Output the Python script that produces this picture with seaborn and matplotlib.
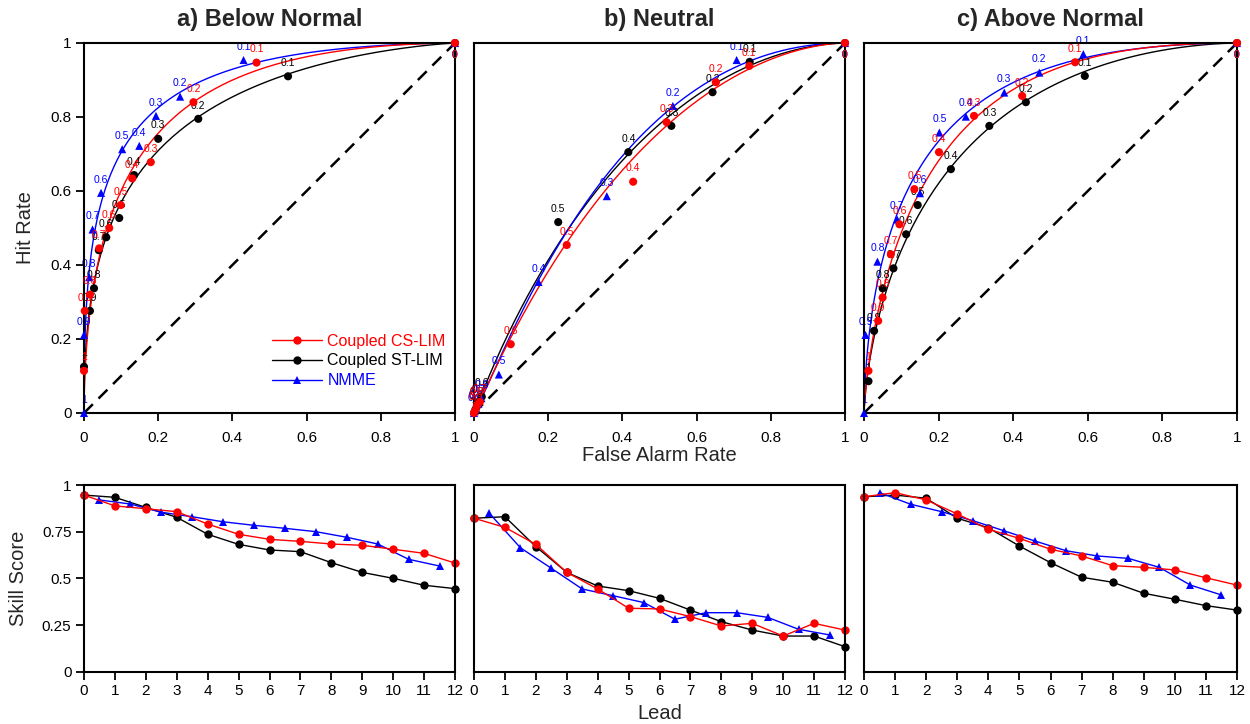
import math
import numpy as np
import pandas as pd
import matplotlib
matplotlib.use("Agg")
import matplotlib.pyplot as plt
from matplotlib.lines import Line2D
from matplotlib.ticker import FuncFormatter
import seaborn as sns

# ---------------- data ----------------
thresholds = ["1", "0.9", "0.8", "0.7", "0.6", "0.5", "0.4", "0.3", "0.2", "0.1", "0"]

# a) Below Normal  (false alarm rate, hit rate) per threshold
a_cs_far = [0.0, 0.002, 0.016, 0.041, 0.068, 0.099, 0.130, 0.180, 0.295, 0.465, 1.0]
a_cs_hr  = [0.114, 0.276, 0.320, 0.445, 0.500, 0.562, 0.634, 0.678, 0.840, 0.947, 1.0]
a_st_far = [0.0, 0.016, 0.027, 0.040, 0.060, 0.095, 0.135, 0.200, 0.308, 0.550, 1.0]
a_st_hr  = [0.125, 0.276, 0.337, 0.440, 0.475, 0.527, 0.643, 0.741, 0.795, 0.910, 1.0]
a_nm_far = [0.0, 0.0, 0.014, 0.023, 0.046, 0.103, 0.149, 0.194, 0.259, 0.430, 1.0]
a_nm_hr  = [0.0, 0.211, 0.367, 0.496, 0.595, 0.713, 0.722, 0.803, 0.855, 0.954, 1.0]

# b) Neutral
b_cs_far = [0.0, 0.004, 0.008, 0.016, 0.099, 0.250, 0.429, 0.519, 0.652, 0.742, 1.0]
b_cs_hr  = [0.0, 0.008, 0.020, 0.030, 0.186, 0.454, 0.625, 0.786, 0.894, 0.938, 1.0]
b_st_far = [0.0, 0.004, 0.008, 0.012, 0.021, 0.227, 0.416, 0.532, 0.643, 0.743, 1.0]
b_st_hr  = [0.0, 0.010, 0.020, 0.030, 0.044, 0.516, 0.705, 0.776, 0.867, 0.949, 1.0]
b_nm_far = [0.0, 0.002, 0.006, 0.012, 0.020, 0.067, 0.174, 0.358, 0.536, 0.708, 1.0]
b_nm_hr  = [0.0, 0.005, 0.012, 0.025, 0.040, 0.104, 0.354, 0.586, 0.830, 0.954, 1.0]

# c) Above Normal
c_cs_far = [0.012, 0.038, 0.050, 0.072, 0.095, 0.135, 0.201, 0.295, 0.424, 0.566, 1.0]
c_cs_hr  = [0.114, 0.249, 0.312, 0.429, 0.510, 0.605, 0.705, 0.803, 0.857, 0.948, 1.0]
c_st_far = [0.012, 0.027, 0.050, 0.079, 0.113, 0.144, 0.233, 0.336, 0.434, 0.592, 1.0]
c_st_hr  = [0.086, 0.222, 0.337, 0.391, 0.483, 0.562, 0.659, 0.776, 0.840, 0.911, 1.0]
c_nm_far = [0.0, 0.004, 0.036, 0.089, 0.150, 0.202, 0.273, 0.376, 0.470, 0.588, 1.0]
c_nm_hr  = [0.0, 0.211, 0.409, 0.523, 0.594, 0.758, 0.801, 0.866, 0.920, 0.970, 1.0]

# skill scores vs lead
lead_int  = [0, 1, 2, 3, 4, 5, 6, 7, 8, 9, 10, 11, 12]
lead_half = [0.5, 1.5, 2.5, 3.5, 4.5, 5.5, 6.5, 7.5, 8.5, 9.5, 10.5, 11.5]

a_cs_ss = [0.946, 0.888, 0.873, 0.857, 0.791, 0.736, 0.709, 0.698, 0.684, 0.677, 0.656, 0.634, 0.582]
a_st_ss = [0.946, 0.934, 0.880, 0.827, 0.736, 0.682, 0.652, 0.643, 0.584, 0.532, 0.500, 0.463, 0.445]
a_nm_ss = [0.920, 0.898, 0.854, 0.830, 0.803, 0.784, 0.768, 0.750, 0.720, 0.684, 0.602, 0.566]

b_cs_ss = [0.822, 0.773, 0.682, 0.532, 0.443, 0.340, 0.336, 0.295, 0.245, 0.259, 0.191, 0.259, 0.223]
b_st_ss = [0.822, 0.830, 0.670, 0.532, 0.459, 0.434, 0.393, 0.330, 0.268, 0.223, 0.191, 0.191, 0.134]
b_nm_ss = [0.848, 0.664, 0.554, 0.443, 0.407, 0.370, 0.281, 0.316, 0.316, 0.291, 0.227, 0.197]

c_cs_ss = [0.937, 0.959, 0.920, 0.845, 0.763, 0.714, 0.656, 0.620, 0.568, 0.559, 0.545, 0.503, 0.464]
c_st_ss = [0.937, 0.946, 0.929, 0.822, 0.771, 0.673, 0.584, 0.506, 0.479, 0.420, 0.388, 0.354, 0.330]
c_nm_ss = [0.959, 0.897, 0.857, 0.809, 0.755, 0.700, 0.648, 0.620, 0.607, 0.559, 0.464, 0.411]

titles = ["a) Below Normal", "b) Neutral", "c) Above Normal"]
labels = ["Coupled CS-LIM", "Coupled ST-LIM", "NMME"]
colors = ["#ff0000", "#000000", "#0000ff"]
markers = ["o", "o", "^"]

roc = [
    [(a_cs_far, a_cs_hr), (a_st_far, a_st_hr), (a_nm_far, a_nm_hr)],
    [(b_cs_far, b_cs_hr), (b_st_far, b_st_hr), (b_nm_far, b_nm_hr)],
    [(c_cs_far, c_cs_hr), (c_st_far, c_st_hr), (c_nm_far, c_nm_hr)],
]
skill = [
    [(lead_int, a_cs_ss), (lead_int, a_st_ss), (lead_half, a_nm_ss)],
    [(lead_int, b_cs_ss), (lead_int, b_st_ss), (lead_half, b_nm_ss)],
    [(lead_int, c_cs_ss), (lead_int, c_st_ss), (lead_half, c_nm_ss)],
]

# ---------------- helpers: binormal ROC fit ----------------
_erf = np.vectorize(math.erf)
def Phi(z):
    return 0.5 * (1.0 + _erf(np.asarray(z) / math.sqrt(2.0)))
_zg = np.linspace(-7, 7, 4001)
_pg = Phi(_zg)
def probit(p):
    return np.interp(p, _pg, _zg)

def binormal_curve(far, hr):
    far = np.asarray(far); hr = np.asarray(hr)
    m = (far > 0.005) & (far < 0.995) & (hr > 0.005) & (hr < 0.995)
    b, a = np.polyfit(probit(far[m]), probit(hr[m]), 1)
    z = np.linspace(-3.2, 4.5, 400)
    return Phi(z), Phi(a + b * z)

# ---------------- figure ----------------
sns.set_theme(style="ticks")
plt.rcParams["font.family"] = ["Liberation Sans", "DejaVu Sans"]

W, H = 1250, 724
fig = plt.figure(figsize=(W / 100, H / 100), dpi=100)
lefts = [84, 474, 864]
widths = [371, 371, 373]
fmt = FuncFormatter(lambda v, p: f"{v:g}")

draw_order = [1, 2, 0]  # black, blue, red on top

for i in range(3):
    # ---- ROC panel ----
    ax = fig.add_axes([lefts[i] / W, 1 - 413 / H, widths[i] / W, 370 / H])
    ax.axline((0, 0), slope=1, color="black", lw=1.8, ls=(0, (5, 3.2)))
    for k in draw_order:
        far, hr = roc[i][k]
        cx, cy = binormal_curve(far, hr)
        sns.lineplot(x=cx, y=cy, sort=False, estimator=None, color=colors[k],
                     lw=1.0, ax=ax)
    for k in draw_order:
        far, hr = roc[i][k]
        sns.scatterplot(x=far, y=hr, marker=markers[k], s=34, color=colors[k],
                        edgecolor="none", linewidth=0, ax=ax, clip_on=False,
                        zorder=3)
        for t, xv, yv in zip(thresholds, far, hr):
            dy = -5 if t == "0" else 6
            va = "top" if t == "0" else "bottom"
            ax.annotate(t, (xv, yv), xytext=(0, dy), textcoords="offset points",
                        ha="center", va=va, fontsize=7.5, color=colors[k],
                        annotation_clip=False, zorder=4 if k == 0 else 2)
    ax.set_xlim(0, 1)
    ax.set_ylim(0, 1)
    ax.set_xticks(np.arange(0, 1.01, 0.2))
    ax.set_yticks(np.arange(0, 1.01, 0.2))
    ax.xaxis.set_major_formatter(fmt)
    ax.yaxis.set_major_formatter(fmt)
    ax.tick_params(direction="out", length=6, width=1.3, labelsize=11,
                   colors="black", pad=3)
    ax.tick_params(axis="x", pad=7)
    for s in ax.spines.values():
        s.set_visible(True)
        s.set_linewidth(1.5)
        s.set_color("black")
    ax.set_title(titles[i], fontsize=17, fontweight="bold", pad=12)
    if i == 0:
        ax.set_ylabel("Hit Rate", fontsize=14.5, labelpad=11)
        handles = [Line2D([], [], color=colors[k], marker=markers[k], lw=1.0,
                          markersize=6, markeredgewidth=0) for k in range(3)]
        leg = ax.legend(handles, labels, loc="lower left",
                        bbox_to_anchor=(0.49, 0.05), frameon=False,
                        fontsize=11.5, handlelength=3.1, handletextpad=0.35,
                        labelspacing=0.3, borderaxespad=0)
        for txt, c in zip(leg.get_texts(), colors):
            txt.set_color(c)
    else:
        ax.tick_params(left=False, labelleft=False)
        ax.set_ylabel("")
    if i == 1:
        ax.set_xlabel("False Alarm Rate", fontsize=14.5, labelpad=1)
    else:
        ax.set_xlabel("")

    # ---- Skill score panel ----
    bx = fig.add_axes([lefts[i] / W, 1 - 671.7 / H, widths[i] / W, 186.7 / H])
    for k in draw_order:
        xs, ys = skill[i][k]
        sns.lineplot(x=xs, y=ys, color=colors[k], marker=markers[k],
                     markersize=6, markeredgewidth=0, lw=1.0, ax=bx,
                     clip_on=False, estimator=None)
    bx.set_xlim(0, 12)
    bx.set_ylim(0, 1)
    bx.set_xticks(lead_int)
    bx.set_yticks([0, 0.25, 0.5, 0.75, 1])
    bx.yaxis.set_major_formatter(fmt)
    bx.tick_params(direction="out", length=6, width=1.3, labelsize=11,
                   colors="black", pad=3)
    for s in bx.spines.values():
        s.set_visible(True)
        s.set_linewidth(1.5)
        s.set_color("black")
    if i == 0:
        bx.set_ylabel("Skill Score", fontsize=14.5, labelpad=10)
    else:
        bx.tick_params(left=False, labelleft=False)
        bx.set_ylabel("")
    if i == 1:
        bx.set_xlabel("Lead", fontsize=14.5, labelpad=4)
    else:
        bx.set_xlabel("")

fig.savefig("out.png", dpi=100)
